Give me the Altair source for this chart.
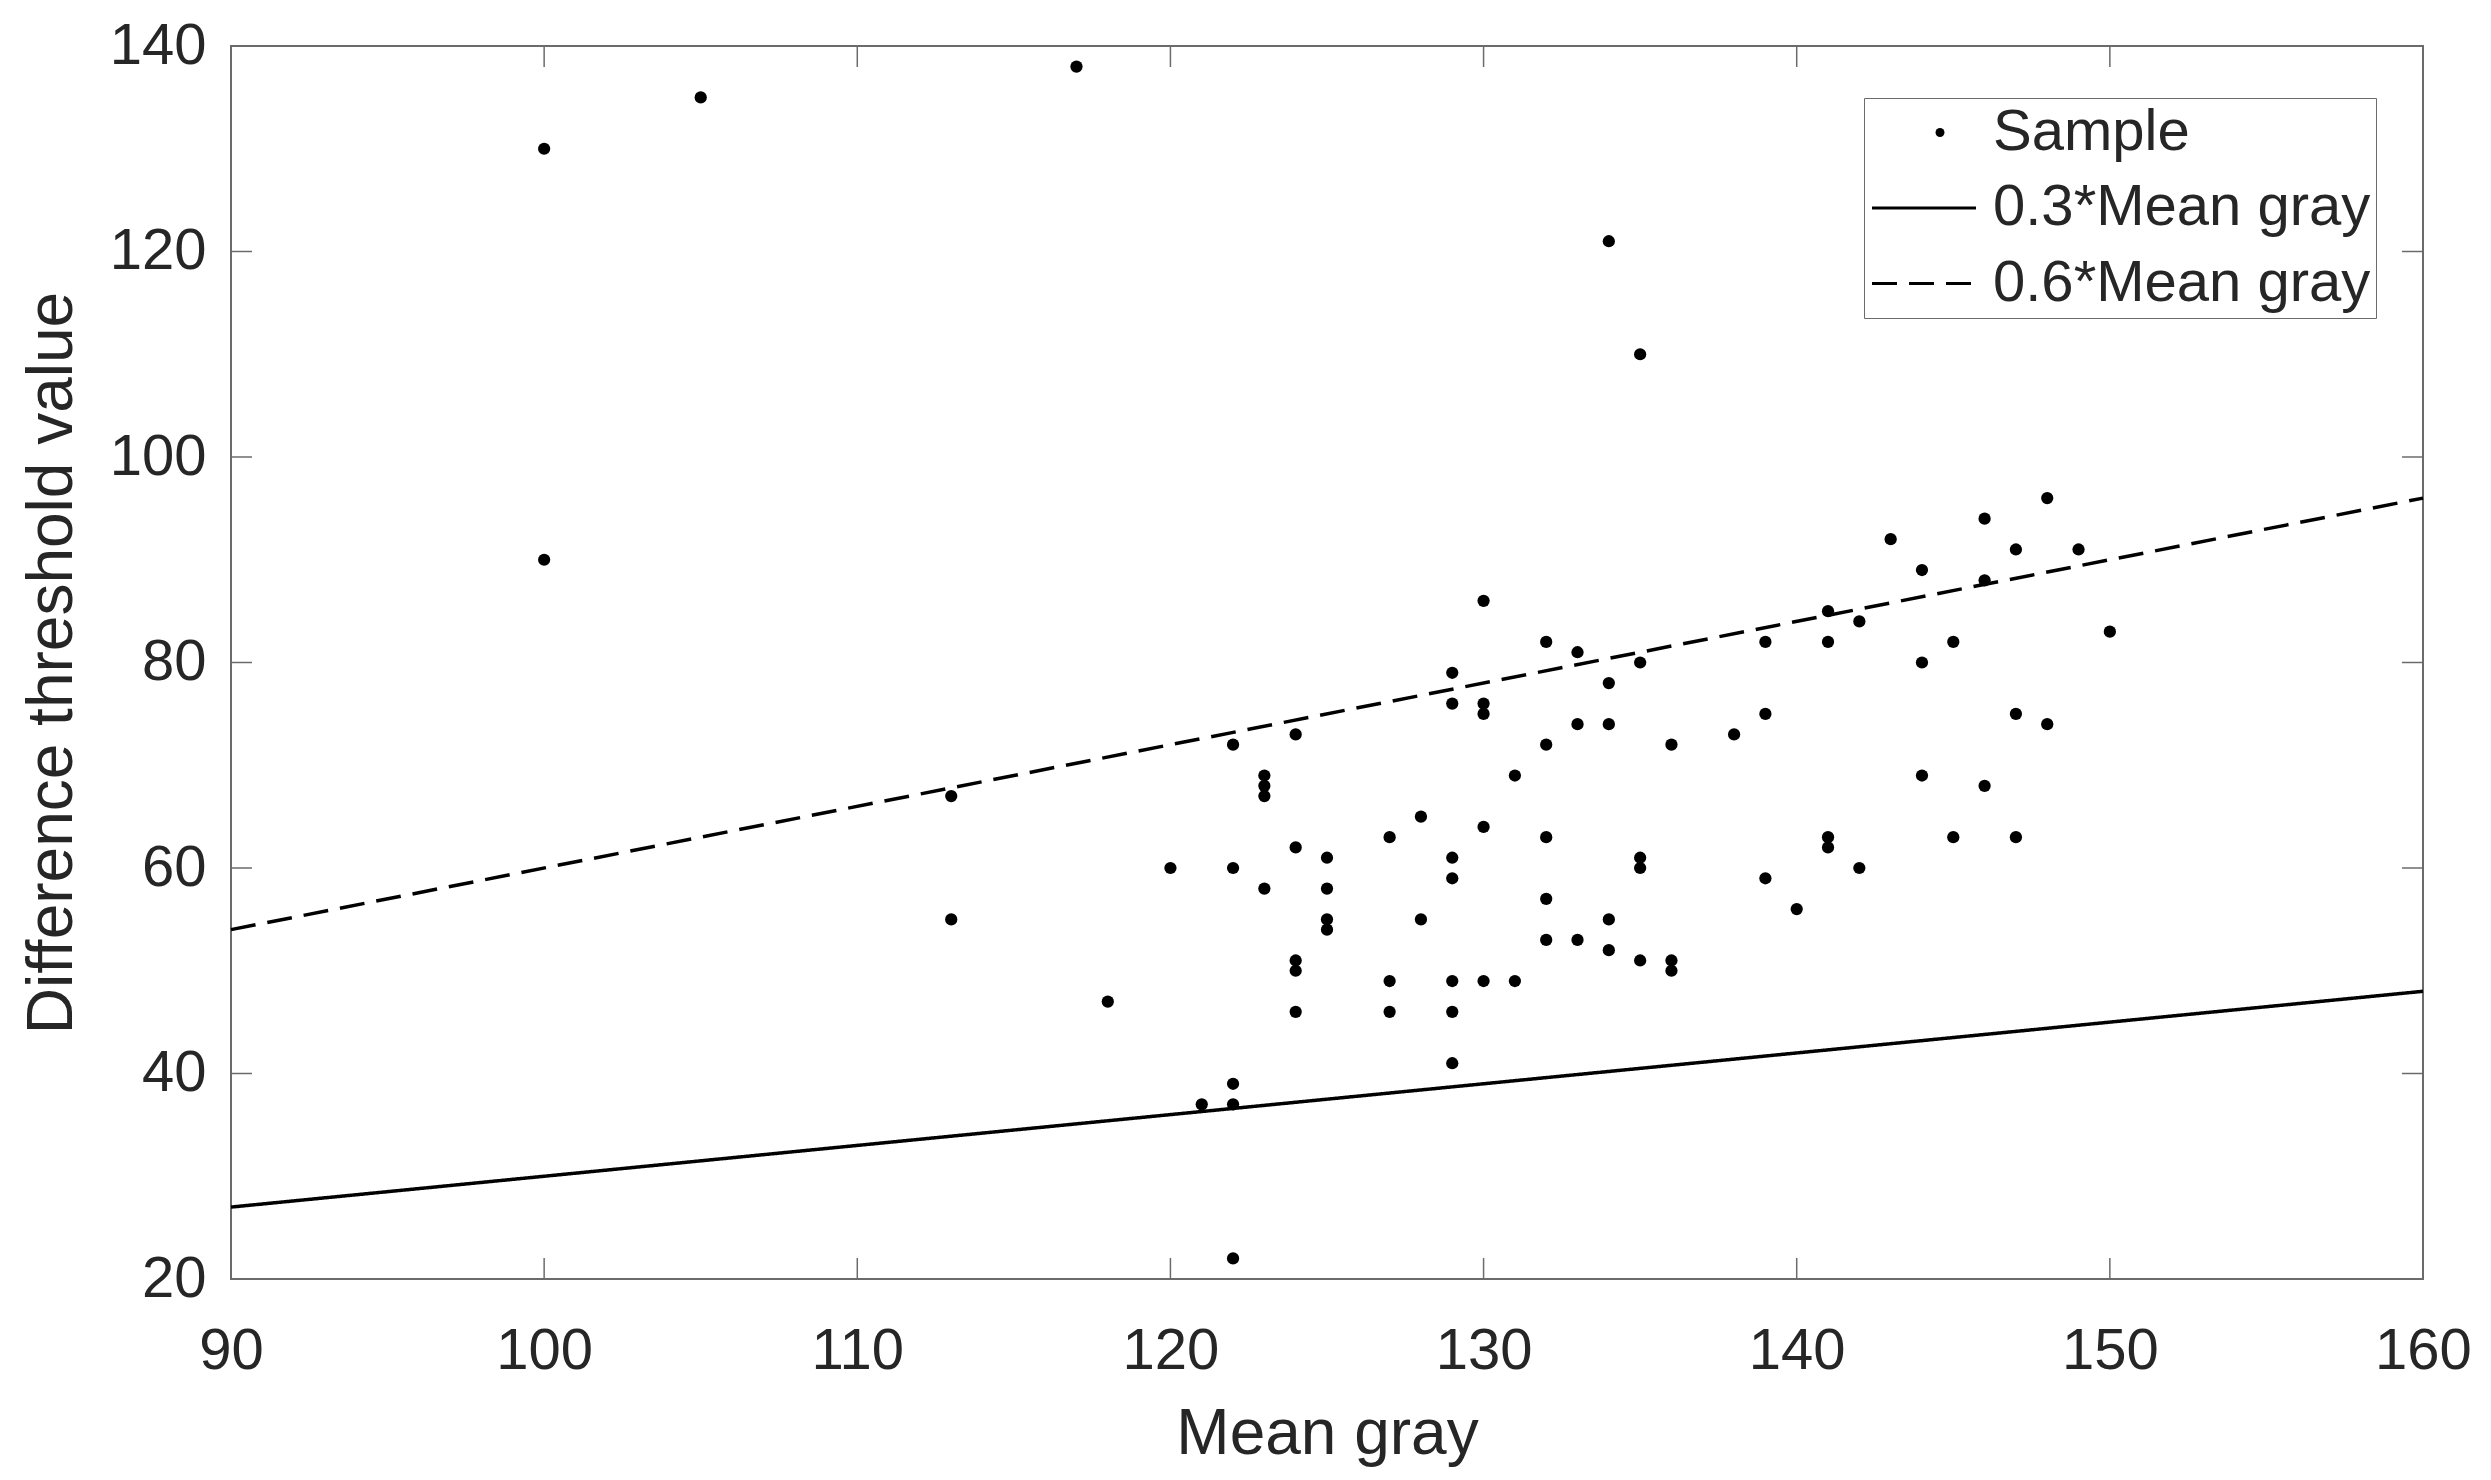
import altair as alt
import pandas as pd

# ---- data ----
sample_x = [100, 100, 105, 113, 113, 117, 118, 120, 121,
            122, 122, 122, 122, 122,
            123, 123, 123, 123,
            124, 124, 124, 124, 124,
            125, 125, 125, 125,
            127, 127, 127,
            128, 128,
            129, 129, 129, 129, 129, 129, 129,
            130, 130, 130, 130, 130,
            131, 131,
            132, 132, 132, 132, 132,
            133, 133, 133,
            134, 134, 134, 134, 134,
            135, 135, 135, 135, 135,
            136, 136, 136,
            138,
            139, 139, 139,
            140,
            141, 141, 141, 141,
            142, 142,
            143,
            144, 144, 144,
            145, 145,
            146, 146, 146,
            147, 147, 147,
            148, 148,
            149,
            150]
sample_y = [130, 90, 135, 67, 55, 138, 47, 60, 37,
            72, 60, 39, 37, 22,
            69, 68, 67, 58,
            73, 62, 51, 50, 46,
            61, 58, 55, 54,
            63, 49, 46,
            65, 55,
            79, 76, 61, 59, 49, 46, 41,
            86, 76, 75, 64, 49,
            69, 49,
            82, 72, 63, 57, 53,
            81, 74, 53,
            121, 78, 74, 55, 52,
            110, 80, 61, 60, 51,
            72, 51, 50,
            73,
            82, 75, 59,
            56,
            85, 82, 63, 62,
            84, 60,
            92,
            89, 80, 69,
            82, 63,
            94, 88, 68,
            91, 75, 63,
            96, 74,
            91,
            83]
series_names = ["Sample", "0.3*Mean gray", "0.6*Mean gray"]
line_x = [90, 160]
line_low_y = [27, 48]     # 0.3*Mean gray
line_high_y = [54, 96]    # 0.6*Mean gray
x_ticks = [90, 100, 110, 120, 130, 140, 150, 160]
y_ticks = [20, 40, 60, 80, 100, 120, 140]

# ---- styling ----
W, H = 2192, 1233
FONT = "Liberation Sans"
TXT = "#262626"
FRAME = "#6b6b6b"
TICK = 21
DASH = [25, 12]
LINE_SYM = "M-26,0H26"   # legend line symbol (scaled by sqrt(symbolSize)/2 = 2)

pts = pd.DataFrame({"x": sample_x, "y": sample_y, "series": series_names[0]})
lines = pd.DataFrame({
    "x": line_x + line_x,
    "y": line_low_y + line_high_y,
    "series": [series_names[1]] * 2 + [series_names[2]] * 2,
})
xt = pd.DataFrame({"x": x_ticks})
yt = pd.DataFrame({"y": y_ticks})

xscale = alt.Scale(domain=[90, 160], nice=False, zero=False)
yscale = alt.Scale(domain=[20, 140], nice=False, zero=False)
# "Sample" gets an invisible dash in the line legend; its dot comes from the point legend
dash_scale = alt.Scale(domain=series_names, range=[[0, 400], [1, 0], DASH])
color_scale = alt.Scale(domain=series_names[:1], range=["black"])

xaxis = alt.Axis(values=x_ticks, title="Mean gray", format="d",
                 labelFont=FONT, labelFontSize=58, labelColor=TXT, labelPadding=43,
                 titleFont=FONT, titleFontSize=64, titleColor=TXT, titleFontWeight="normal",
                 titlePadding=22, ticks=False, domain=False, grid=False,
                 labelFlush=False, labelOverlap=False)
yaxis = alt.Axis(values=y_ticks, title="Difference threshold value", format="d",
                 labelFont=FONT, labelFontSize=58, labelColor=TXT, labelPadding=25,
                 titleFont=FONT, titleFontSize=64, titleColor=TXT, titleFontWeight="normal",
                 titlePadding=25, ticks=False, domain=False, grid=False,
                 labelFlush=False, labelOverlap=False)

LEG_X, LEG_Y = 1633, 52
common = dict(title=None, orient="none", legendX=LEG_X, legendY=LEG_Y,
              labelFont=FONT, labelFontSize=58, labelColor=TXT, labelLimit=1000,
              padding=5.5, rowPadding=17.5, labelOffset=40)

line_legend = alt.Legend(
    strokeColor=FRAME, symbolType=LINE_SYM, symbolSize=16, symbolStrokeWidth=3,
    symbolStrokeColor="black", symbolOpacity=1, symbolOffset=25.5, zindex=0, **common)
# dot-only legend overlaid on the "Sample" row (its label is left empty)
dot_legend = alt.Legend(
    symbolType="circle", symbolSize=80, symbolFillColor="black", symbolStrokeWidth=0,
    symbolOpacity=1, symbolOffset=41.5, labelExpr="''", zindex=2, **common)

X = alt.X("x:Q", scale=xscale, axis=xaxis)
Y = alt.Y("y:Q", scale=yscale, axis=yaxis)

line_layer = alt.Chart(lines).mark_line(color="black", strokeWidth=3.5).encode(
    x=X, y=Y,
    strokeDash=alt.StrokeDash("series:N", scale=dash_scale, legend=line_legend),
)
point_layer = alt.Chart(pts).mark_circle(size=150, opacity=1).encode(
    x=X, y=Y,
    color=alt.Color("series:N", scale=color_scale, legend=dot_legend),
)

tick_style = dict(color=FRAME, strokeWidth=1.5)
t_bottom = alt.Chart(xt).mark_rule(**tick_style).encode(
    x=alt.X("x:Q", scale=xscale, axis=xaxis), y=alt.value(H), y2=alt.value(H - TICK))
t_top = alt.Chart(xt).mark_rule(**tick_style).encode(
    x=alt.X("x:Q", scale=xscale, axis=xaxis), y=alt.value(0), y2=alt.value(TICK))
t_left = alt.Chart(yt).mark_rule(**tick_style).encode(
    y=alt.Y("y:Q", scale=yscale, axis=yaxis), x=alt.value(0), x2=alt.value(TICK))
t_right = alt.Chart(yt).mark_rule(**tick_style).encode(
    y=alt.Y("y:Q", scale=yscale, axis=yaxis), x=alt.value(W), x2=alt.value(W - TICK))

chart = alt.layer(t_bottom, t_top, t_left, t_right, line_layer, point_layer).properties(
    width=W, height=H,
    padding={"left": 12, "top": 9, "right": 5, "bottom": 5},
    background="white",
).configure_view(stroke=FRAME, strokeWidth=2)

chart.save("out.html", embed_options={"renderer": "svg", "actions": False})
